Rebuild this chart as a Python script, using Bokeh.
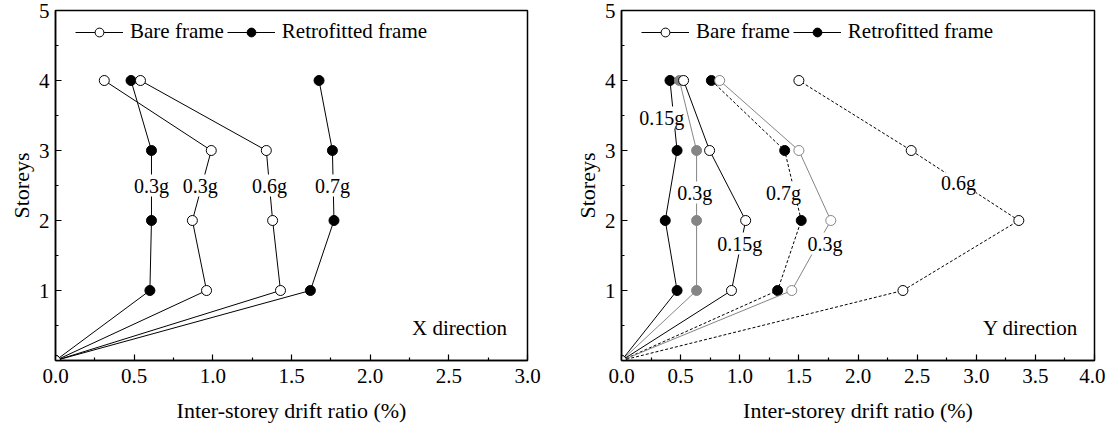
from bokeh.plotting import figure
from bokeh.layouts import row
from bokeh.models import FixedTicker, Label, Legend, LegendItem, Range1d
from bokeh.embed import file_html
from bokeh.resources import INLINE

# ---------------- data ----------------
storeys = [0, 1, 2, 3, 4]

# X direction
x_retro_03g = [0, 0.60, 0.61, 0.61, 0.48]
x_bare_03g = [0, 0.96, 0.87, 0.99, 0.31]
x_bare_06g = [0, 1.43, 1.38, 1.34, 0.54]
x_retro_07g = [0, 1.62, 1.77, 1.76, 1.675]

# Y direction
y_retro_015g = [0, 0.47, 0.37, 0.47, 0.41]
y_retro_03g = [0, 0.635, 0.635, 0.635, 0.49]
y_bare_015g = [0, 0.93, 1.05, 0.745, 0.525]
y_retro_07g = [0, 1.32, 1.52, 1.38, 0.76]
y_bare_03g = [0, 1.44, 1.77, 1.50, 0.83]
y_bare_06g = [0, 2.38, 3.36, 2.45, 1.50]

x_ticks_left = [0.0, 0.5, 1.0, 1.5, 2.0, 2.5, 3.0]
x_ticks_right = [0.0, 0.5, 1.0, 1.5, 2.0, 2.5, 3.0, 3.5, 4.0]
y_ticks = [1, 2, 3, 4, 5]

FONT = "Liberation Serif"
GRAY = "#858585"


def make_fig(width, xmax, xticks, border_left, border_right):
    p = figure(width=width, height=427, output_backend="svg", toolbar_location=None,
               x_range=Range1d(0, xmax), y_range=Range1d(0, 5),
               min_border_left=border_left, min_border_right=border_right,
               min_border_top=10, min_border_bottom=67)
    p.grid.visible = False
    p.outline_line_color = "black"
    p.outline_line_width = 1.5
    minor_x = [t + 0.25 for t in xticks[:-1]]
    p.xaxis.ticker = FixedTicker(ticks=xticks, minor_ticks=minor_x)
    p.yaxis.ticker = FixedTicker(ticks=y_ticks, minor_ticks=[0.5, 1.5, 2.5, 3.5, 4.5])
    p.xaxis.major_label_overrides = {t: f"{t:.1f}" for t in xticks}
    for ax in (p.xaxis[0], p.yaxis[0]):
        ax.axis_line_width = 1.5
        ax.major_tick_in = 6
        ax.major_tick_out = 0
        ax.minor_tick_in = 3
        ax.minor_tick_out = 0
        ax.major_tick_line_width = 1.2
        ax.minor_tick_line_width = 1.2
        ax.major_label_text_font = FONT
        ax.major_label_text_font_size = "21px"
        ax.major_label_text_color = "black"
        ax.axis_label_text_font = FONT
        ax.axis_label_text_font_size = "22px"
        ax.axis_label_text_font_style = "normal"
        ax.axis_label_text_color = "black"
    p.xaxis.axis_label = "Inter-storey drift ratio (%)"
    p.yaxis.axis_label = "Storeys"
    p.xaxis.major_label_standoff = 8
    p.xaxis.axis_label_standoff = 12
    p.yaxis.major_label_standoff = 6
    p.yaxis.axis_label_standoff = 2
    return p


def series(p, xs, color, fill, dash="solid"):
    ln = p.line(xs, storeys, line_color=color, line_width=1, line_dash=dash)
    sc = p.scatter(xs, storeys, size=10, marker="circle", line_color=color,
                   fill_color=fill, line_width=1)
    return [ln, sc]


def tag(p, x, y, text):
    p.add_layout(Label(x=x, y=y, text=text, text_font=FONT, text_font_size="20px",
                       text_align="center", text_baseline="middle",
                       background_fill_color="white", text_color="black"))


def add_legend(p, bare, retro):
    leg = Legend(items=[LegendItem(label="Bare frame", renderers=bare),
                        LegendItem(label="Retrofitted frame", renderers=retro)],
                 orientation="horizontal", location=(20, 316),
                 glyph_width=48, glyph_height=22, label_standoff=7, spacing=3,
                 margin=0, padding=0,
                 label_text_font=FONT, label_text_font_size="21px",
                 label_text_color="black",
                 border_line_color=None, background_fill_alpha=0)
    p.add_layout(leg)


# ---------------- X direction ----------------
p1 = make_fig(568, 3.0, x_ticks_left, 55, 41)
r1 = series(p1, x_retro_03g, "black", "black")
series(p1, x_retro_07g, "black", "black")
b1 = series(p1, x_bare_03g, "black", "white")
series(p1, x_bare_06g, "black", "white")
add_legend(p1, b1, r1)
tag(p1, 0.61, 2.5, "0.3g")
tag(p1, 0.92, 2.5, "0.3g")
tag(p1, 1.36, 2.5, "0.6g")
tag(p1, 1.76, 2.5, "0.7g")
p1.add_layout(Label(x=2.87, y=0.46, text="X direction", text_font=FONT, text_color="black",
                    text_font_size="21px", text_align="right", text_baseline="middle"))

# ---------------- Y direction ----------------
p2 = make_fig(537, 4.0, x_ticks_right, 53, 11)
r2 = series(p2, y_retro_015g, "black", "black")
series(p2, y_retro_03g, GRAY, GRAY)
series(p2, y_retro_07g, "black", "black", dash="3 2")
b2 = series(p2, y_bare_015g, "black", "white")
series(p2, y_bare_03g, GRAY, "white")
series(p2, y_bare_06g, "black", "white", dash="3 2")
add_legend(p2, b2, r2)
tag(p2, 0.34, 3.47, "0.15g")
tag(p2, 0.62, 2.4, "0.3g")
tag(p2, 1.37, 2.4, "0.7g")
tag(p2, 1.0, 1.67, "0.15g")
tag(p2, 1.72, 1.67, "0.3g")
tag(p2, 2.85, 2.53, "0.6g")
p2.add_layout(Label(x=3.86, y=0.47, text="Y direction", text_font=FONT, text_color="black",
                    text_font_size="21px", text_align="right", text_baseline="middle"))

layout = row(p1, p2)
open("out.html", "w").write(file_html(layout, INLINE))
